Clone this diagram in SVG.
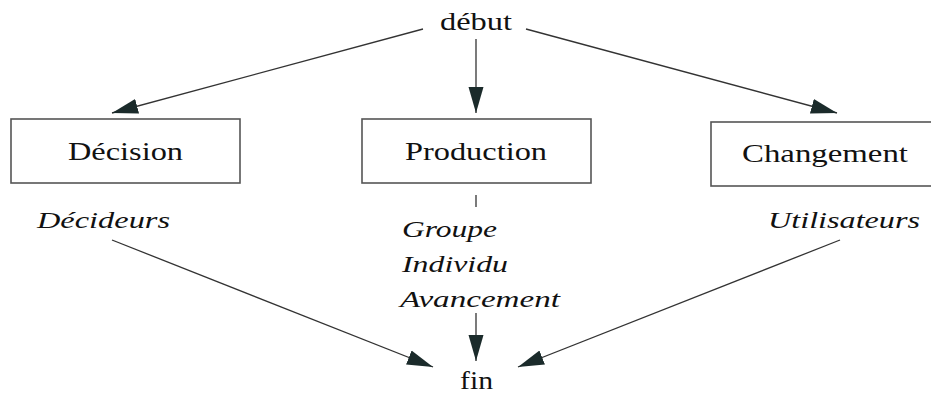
<svg xmlns="http://www.w3.org/2000/svg" width="931" height="396" viewBox="0 0 931 396">
  <style>
    .box { fill: #ffffff; stroke: #555555; stroke-width: 1.6; }
    .lbl { font-family: 'Liberation Serif', 'DejaVu Serif', 'Times New Roman', Times, serif; font-size: 25px; fill: #111111; }
    .it { font-family: 'Liberation Serif', 'DejaVu Serif', 'Times New Roman', Times, serif; font-size: 24px; font-style: italic; fill: #111111; }
    .edge { stroke: #333333; stroke-width: 1.3; fill: none; }
  </style>
  <defs>
    <marker id="head" markerUnits="userSpaceOnUse" markerWidth="28" markerHeight="16" refX="26" refY="8" orient="auto">
      <path d="M0,0.5 L26,8 L0,15.5 Z" fill="#1b2b2b"/>
    </marker>
  </defs>
  <rect width="931" height="396" fill="#ffffff"/>

  <!-- connectors -->
  <g id="connectors">
    <line class="edge" x1="423" y1="29" x2="112" y2="113" marker-end="url(#head)"/>
    <line class="edge" x1="476" y1="39" x2="476" y2="113" marker-end="url(#head)"/>
    <line class="edge" x1="526" y1="29" x2="837" y2="113" marker-end="url(#head)"/>
    <line class="edge" x1="476" y1="195" x2="476" y2="207"/>
    <line class="edge" x1="112" y1="240" x2="433" y2="367" marker-end="url(#head)"/>
    <line class="edge" x1="476" y1="313" x2="476" y2="361" marker-end="url(#head)"/>
    <line class="edge" x1="840" y1="240" x2="518" y2="367" marker-end="url(#head)"/>
  </g>

  <g id="debut">
    <text class="lbl" x="440" y="30" textLength="72" lengthAdjust="spacingAndGlyphs">début</text>
  </g>

  <g id="decision">
    <rect class="box" x="11" y="119" width="229" height="64"/>
    <text class="lbl" x="68" y="160" textLength="115" lengthAdjust="spacingAndGlyphs">Décision</text>
    <text class="it" x="37" y="228" textLength="133" lengthAdjust="spacingAndGlyphs">Décideurs</text>
  </g>

  <g id="production">
    <rect class="box" x="362" y="119" width="229" height="64"/>
    <text class="lbl" x="405" y="160" textLength="142" lengthAdjust="spacingAndGlyphs">Production</text>
    <text class="it" x="402" y="237" textLength="95" lengthAdjust="spacingAndGlyphs">Groupe</text>
    <text class="it" x="402" y="272" textLength="106" lengthAdjust="spacingAndGlyphs">Individu</text>
    <text class="it" x="400" y="307" textLength="160" lengthAdjust="spacingAndGlyphs">Avancement</text>
  </g>

  <g id="changement">
    <rect class="box" x="711" y="122" width="222" height="64"/>
    <text class="lbl" x="742" y="162" textLength="166" lengthAdjust="spacingAndGlyphs">Changement</text>
    <text class="it" x="768" y="228" textLength="152" lengthAdjust="spacingAndGlyphs">Utilisateurs</text>
  </g>

  <g id="fin">
    <text class="lbl" x="460" y="389" textLength="33" lengthAdjust="spacingAndGlyphs">fin</text>
  </g>
</svg>
